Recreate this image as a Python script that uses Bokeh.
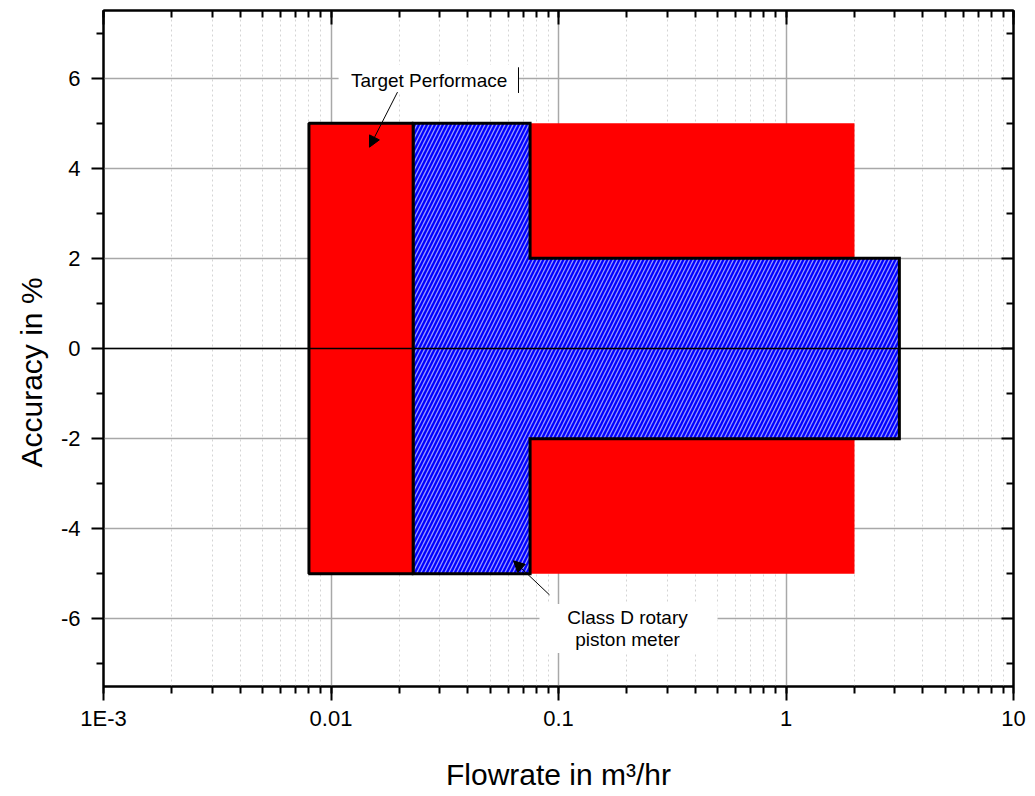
from bokeh.plotting import figure
from bokeh.models import (LogAxis, LinearAxis, Span, Label, Arrow, NormalHead, BoxAnnotation,
                          FixedTicker, LogTicker, CustomJSTickFormatter, Range1d, Title)
from bokeh.embed import file_html
from bokeh.resources import INLINE

# ---- data ----
target_flow = [0.008, 2.0]          # target performance flow span (m3/hr)
target_acc = 5.0                     # +/- accuracy %
meter_flow = [0.023, 0.075, 3.15]    # class D meter: Q1, Qt, Qmax
meter_acc = [5.0, 2.0]               # +/- accuracy in lower / upper zone
x_tick_values = [0.001, 0.01, 0.1, 1, 10]
x_tick_labels = ["1E-3", "0.01", "0.1", "1", "10"]
y_ticks = [-6, -4, -2, 0, 2, 4, 6]
y_minor = [-7, -5, -3, -1, 1, 3, 5, 7]

FONT = "Liberation Sans"

p = figure(x_axis_type="log", x_range=Range1d(0.001, 10), y_range=Range1d(-7.5, 7.5),
           width=1030, height=796, output_backend="svg", toolbar_location=None,
           min_border_left=103, min_border_right=17, min_border_top=10, min_border_bottom=110)
p.outline_line_color = "black"
p.outline_line_width = 2
p.background_fill_color = "white"

# grid
p.xgrid.grid_line_color = "#a8a8a8"
p.xgrid.grid_line_width = 1.5
p.xgrid.minor_grid_line_color = "#d4d4d4"
p.xgrid.minor_grid_line_dash = "2 3"
p.ygrid.grid_line_color = "#a8a8a8"
p.ygrid.grid_line_width = 1.5

xticker = LogTicker(num_minor_ticks=10)
yticker = FixedTicker(ticks=y_ticks, minor_ticks=y_minor)
xfmt = CustomJSTickFormatter(args=dict(vals=x_tick_values, labels=x_tick_labels), code="""
let best = 0; let d = 1e9;
for (let i = 0; i < vals.length; i++) {
  const dd = Math.abs(Math.log10(vals[i]) - Math.log10(tick));
  if (dd < d) { d = dd; best = i; }
}
return labels[best];
""")
yfmt = CustomJSTickFormatter(code="return String(Math.round(tick));")

p.xaxis.ticker = xticker
p.yaxis.ticker = yticker
p.xgrid.ticker = xticker
p.ygrid.ticker = yticker
p.xaxis.formatter = xfmt
p.yaxis.formatter = yfmt

for ax in (p.xaxis[0], p.yaxis[0]):
    ax.axis_line_width = 2
    ax.major_tick_line_width = 2
    ax.minor_tick_line_width = 2
    ax.major_tick_in = 0
    ax.minor_tick_in = 0
    ax.major_label_text_font = FONT
    ax.major_label_text_font_size = "22px"
    ax.major_label_text_color = "black"
    ax.axis_label_text_font = FONT
    ax.axis_label_text_font_size = "30px"
    ax.axis_label_text_font_style = "normal"
    ax.axis_label_text_color = "black"

p.xaxis.major_tick_out = 14
p.xaxis.minor_tick_out = 7
p.xaxis.major_label_standoff = 5
p.xaxis.axis_label = "Flowrate in m³/hr"
p.xaxis.axis_label_standoff = 24

p.yaxis.major_tick_out = 12
p.yaxis.minor_tick_out = 7
p.yaxis.major_label_standoff = 11

top = LogAxis(ticker=xticker, major_tick_in=14, minor_tick_in=7, major_tick_out=0, minor_tick_out=0,
              major_label_text_font_size="1px", major_label_text_alpha=0, major_label_standoff=0,
              axis_line_width=2, major_tick_line_width=2, minor_tick_line_width=2)
right = LinearAxis(ticker=yticker, major_tick_in=12, minor_tick_in=7, major_tick_out=0, minor_tick_out=0,
                   major_label_text_font_size="1px", major_label_text_alpha=0, major_label_standoff=0,
                   axis_line_width=2, major_tick_line_width=2, minor_tick_line_width=2)
p.add_layout(top, "above")
p.add_layout(right, "right")

# y axis title, slightly below the frame centre as in the original
p.add_layout(Title(text="Accuracy in %", align="left", offset=219, standoff=20,
                   text_font=FONT, text_font_size="30px", text_font_style="normal",
                   text_color="black"), "left")

# target performance (red)
p.quad(left=[target_flow[0]], right=[target_flow[1]], top=[target_acc], bottom=[-target_acc],
       fill_color="#ff0000", line_color=None)
p.quad(left=[target_flow[0]], right=[meter_flow[0]], top=[target_acc], bottom=[-target_acc],
       fill_color="#ff0000", line_color="black", line_width=3)

# class D meter (blue hatched)
mx = [meter_flow[0], meter_flow[1], meter_flow[1], meter_flow[2],
      meter_flow[2], meter_flow[1], meter_flow[1], meter_flow[0]]
my = [meter_acc[0], meter_acc[0], meter_acc[1], meter_acc[1],
      -meter_acc[1], -meter_acc[1], -meter_acc[0], -meter_acc[0]]
p.patch(mx, my, fill_color="#0000ff", hatch_pattern="/", hatch_color="white", hatch_alpha=0.6,
        hatch_scale=8, hatch_weight=1.3, line_color="black", line_width=3, line_join="miter")

p.add_layout(Span(location=0, dimension="width", line_color="black", line_width=1.5))

# annotations
p.add_layout(BoxAnnotation(left=0.0108, right=0.0667, top=6.29, bottom=5.67,
                           fill_color="white", fill_alpha=1, line_color=None))
p.add_layout(BoxAnnotation(left=0.0825, right=0.5, top=-5.667, bottom=-6.756,
                           fill_color="white", fill_alpha=1, line_color=None))
p.add_layout(Label(x=0.027, y=5.956, text="Target Performace", text_align="center",
                   text_baseline="middle", text_font=FONT, text_font_size="19px", text_color="black"))
p.add_layout(Label(x=0.2011, y=-5.978, text="Class D rotary", text_align="center",
                   text_baseline="middle", text_font=FONT, text_font_size="19px", text_color="black"))
p.add_layout(Label(x=0.2011, y=-6.467, text="piston meter", text_align="center",
                   text_baseline="middle", text_font=FONT, text_font_size="19px", text_color="black"))
p.add_layout(Arrow(end=None, x_start=0.0667, y_start=6.24, x_end=0.0667, y_end=5.67,
                   line_color="black", line_width=1))
p.add_layout(Arrow(end=NormalHead(size=11, fill_color="black", line_color="black"),
                   x_start=0.0196, y_start=5.689, x_end=0.01476, y_end=4.467,
                   line_color="black", line_width=1))
p.add_layout(Arrow(end=NormalHead(size=11, fill_color="black", line_color="black"),
                   x_start=0.0913, y_start=-5.467, x_end=0.0634, y_end=-4.711,
                   line_color="black", line_width=1))

open("out.html", "w").write(file_html(p, INLINE))
